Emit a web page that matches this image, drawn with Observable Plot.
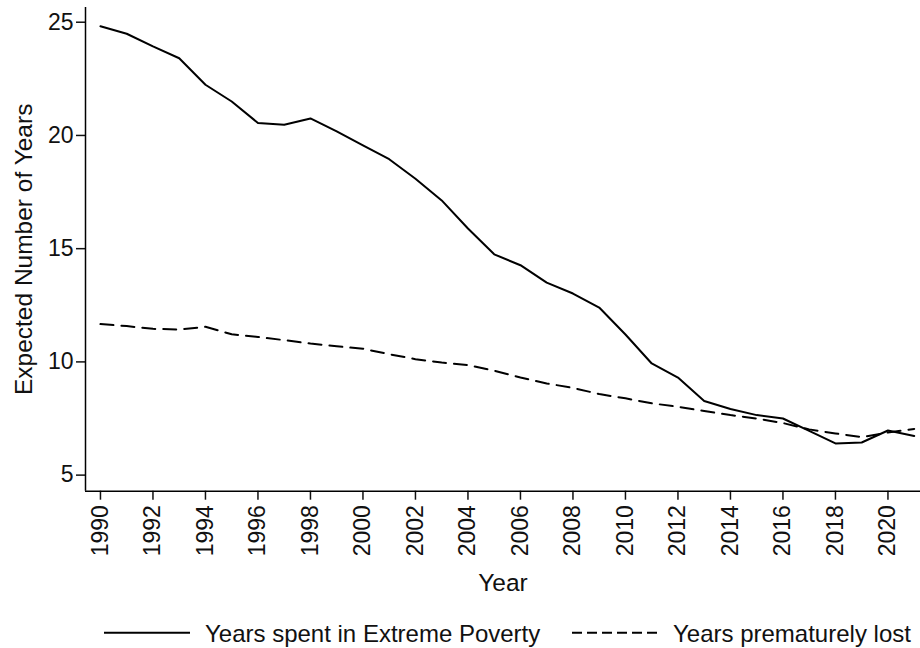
<!DOCTYPE html>
<html>
<head>
<meta charset="utf-8">
<script src="https://cdn.jsdelivr.net/npm/d3@7"></script>
<script src="https://cdn.jsdelivr.net/npm/@observablehq/plot@0.6"></script>
<style>
  html, body { margin: 0; padding: 0; background: #fff; }
  #chart, #legend { width: 920px; display: block; }
  svg { display: block; }
</style>
</head>
<body>
<div id="chart"></div>
<div id="legend"></div>
<script>
// Expected years spent in extreme poverty vs. years of life prematurely lost, 1990-2021
const years = [1990, 1991, 1992, 1993, 1994, 1995, 1996, 1997, 1998, 1999, 2000,
  2001, 2002, 2003, 2004, 2005, 2006, 2007, 2008, 2009, 2010,
  2011, 2012, 2013, 2014, 2015, 2016, 2017, 2018, 2019, 2020, 2021];
const povertyYears = [24.82, 24.49, 23.93, 23.41, 22.24, 21.50, 20.55, 20.47, 20.75, 20.18, 19.56,
  18.95, 18.09, 17.13, 15.89, 14.75, 14.27, 13.50, 13.02, 12.40, 11.21,
  9.93, 9.31, 8.27, 7.92, 7.65, 7.50, 6.95, 6.40, 6.44, 6.97, 6.73];
const lostYears = [11.67, 11.58, 11.46, 11.43, 11.55, 11.22, 11.10, 10.96, 10.81, 10.69, 10.58,
  10.34, 10.12, 9.97, 9.86, 9.61, 9.31, 9.05, 8.85, 8.58, 8.39,
  8.17, 8.02, 7.83, 7.65, 7.50, 7.30, 7.02, 6.84, 6.68, 6.88, 7.04];
const xTicks = [1990, 1992, 1994, 1996, 1998, 2000, 2002, 2004, 2006, 2008, 2010,
  2012, 2014, 2016, 2018, 2020];
const yTicks = [5, 10, 15, 20, 25];
const seriesNames = ["Years spent in Extreme Poverty", "Years prematurely lost"];
const xTitle = "Year";
const yTitle = "Expected Number of Years";

const xDomain = [1989.43, 2021.24];
const yDomain = [4.29, 25.65];

const rows = years.map((year, i) => ({year, poverty: povertyYears[i], lost: lostYears[i]}));

const font = "'Liberation Sans', Arial, Helvetica, sans-serif";
const ink = "#111";

const chart = Plot.plot({
  width: 920,
  height: 610,
  marginLeft: 85,
  marginRight: 0,
  marginTop: 7,
  marginBottom: 119.3,
  style: {fontFamily: font, fontSize: "23px", color: ink, background: "#fff"},
  x: {domain: xDomain},
  y: {domain: yDomain},
  marks: [
    Plot.axisY({
      ticks: yTicks, tickSize: 9, tickPadding: 3, strokeWidth: 1.5,
      fontSize: 23, label: null
    }),
    Plot.axisX({
      ticks: xTicks, tickFormat: d => String(d), tickSize: 9, tickPadding: 5,
      tickRotate: -90, strokeWidth: 1.5, fontSize: 23, label: null
    }),
    Plot.text([yTitle], {
      frameAnchor: "left", text: d => d, rotate: -90, dx: -61,
      textAnchor: "middle", lineAnchor: "middle", fontSize: 24.5, fill: ink
    }),
    Plot.text([xTitle], {
      frameAnchor: "bottom", text: d => d, dy: 92,
      textAnchor: "middle", lineAnchor: "middle", fontSize: 24.5, fill: ink
    }),
    Plot.ruleX([xDomain[0]], {stroke: "#000", strokeWidth: 1.5}),
    Plot.ruleY([yDomain[0]], {stroke: "#000", strokeWidth: 1.5}),
    Plot.line(rows, {x: "year", y: "poverty", stroke: "#000", strokeWidth: 2, strokeLinejoin: "round"}),
    Plot.line(rows, {x: "year", y: "lost", stroke: "#000", strokeWidth: 2, strokeDasharray: "13,8"})
  ]
});
document.getElementById("chart").appendChild(chart);

// Legend row beneath the plot: a line sample and a name for each series
const legendItems = [
  {name: seriesNames[0], x1: 104, x2: 190, textX: 205, dash: null},
  {name: seriesNames[1], x1: 572, x2: 658, textX: 673, dash: "10,5"}
];
const legend = d3.create("svg").attr("width", 920).attr("height", 38)
  .style("font-family", font).style("font-size", "24px");
const item = legend.selectAll("g").data(legendItems).join("g");
item.append("line")
  .attr("x1", d => d.x1).attr("x2", d => d.x2)
  .attr("y1", 22.7).attr("y2", 22.7)
  .attr("stroke", "#000").attr("stroke-width", 2)
  .attr("stroke-dasharray", d => d.dash);
item.append("text")
  .attr("x", d => d.textX).attr("y", 31.7)
  .attr("fill", ink)
  .text(d => d.name);
document.getElementById("legend").appendChild(legend.node());
</script>
</body>
</html>
